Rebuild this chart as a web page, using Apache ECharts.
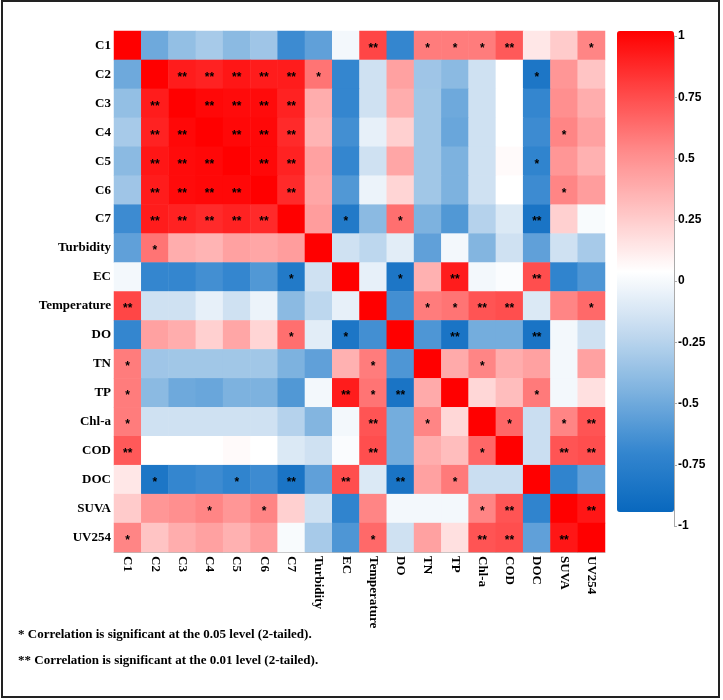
<!DOCTYPE html>
<html>
<head>
<meta charset="utf-8">
<script src="https://cdn.jsdelivr.net/npm/echarts/dist/echarts.min.js"></script>
<style>
  html, body { margin: 0; padding: 0; background: #fff; }
  #main { width: 723px; height: 700px; }
</style>
</head>
<body>
<div id="main"></div>
<script>
// variables, same order on both axes
const names = ['C1', 'C2', 'C3', 'C4', 'C5', 'C6', 'C7', 'Turbidity', 'EC', 'Temperature',
  'DO', 'TN', 'TP', 'Chl-a', 'COD', 'DOC', 'SUVA', 'UV254'];

// correlation coefficients, one row per variable
const corr = [
  [1, -0.55, -0.42, -0.35, -0.45, -0.38, -0.72, -0.6, -0.05, 0.75, -0.75, 0.55, 0.55, 0.55, 0.68, 0.1, 0.22, 0.52],
  [-0.55, 1, 0.9, 0.88, 0.92, 0.9, 0.9, 0.58, -0.75, -0.2, 0.4, -0.38, -0.45, -0.2, 0, -0.88, 0.45, 0.25],
  [-0.42, 0.9, 1, 0.97, 0.96, 0.96, 0.88, 0.35, -0.75, -0.2, 0.35, -0.37, -0.55, -0.2, 0, -0.75, 0.48, 0.35],
  [-0.35, 0.88, 0.97, 1, 0.97, 0.97, 0.85, 0.32, -0.7, -0.1, 0.2, -0.37, -0.57, -0.2, 0, -0.72, 0.52, 0.4],
  [-0.45, 0.92, 0.96, 0.97, 1, 0.97, 0.88, 0.4, -0.75, -0.2, 0.38, -0.37, -0.5, -0.2, 0.02, -0.77, 0.45, 0.33],
  [-0.38, 0.9, 0.96, 0.97, 0.97, 1, 0.85, 0.38, -0.65, -0.08, 0.18, -0.37, -0.5, -0.2, 0, -0.72, 0.52, 0.42],
  [-0.72, 0.9, 0.88, 0.85, 0.88, 0.85, 1, 0.42, -0.85, -0.45, 0.6, -0.5, -0.65, -0.3, -0.15, -0.9, 0.2, -0.03],
  [-0.6, 0.58, 0.35, 0.32, 0.4, 0.38, 0.42, 1, -0.2, -0.27, -0.12, -0.6, -0.05, -0.48, -0.2, -0.6, -0.2, -0.35],
  [-0.05, -0.75, -0.75, -0.7, -0.75, -0.65, -0.85, -0.2, 1, -0.1, -0.88, 0.33, 0.9, -0.05, -0.02, 0.72, -0.77, -0.66],
  [0.75, -0.2, -0.2, -0.1, -0.2, -0.08, -0.45, -0.27, -0.1, 1, -0.7, 0.55, 0.58, 0.7, 0.72, -0.15, 0.52, 0.62],
  [-0.75, 0.4, 0.35, 0.2, 0.38, 0.18, 0.6, -0.12, -0.88, -0.7, 1, -0.66, -0.9, -0.53, -0.53, -0.9, -0.05, -0.2],
  [0.55, -0.38, -0.37, -0.37, -0.37, -0.37, -0.5, -0.6, 0.33, 0.55, -0.66, 1, 0.36, 0.52, 0.35, 0.4, -0.05, 0.4],
  [0.55, -0.45, -0.55, -0.57, -0.5, -0.5, -0.65, -0.05, 0.9, 0.58, -0.9, 0.36, 1, 0.17, 0.28, 0.56, -0.05, 0.13],
  [0.55, -0.2, -0.2, -0.2, -0.2, -0.2, -0.3, -0.48, -0.05, 0.7, -0.53, 0.52, 0.17, 1, 0.63, -0.22, 0.52, 0.7],
  [0.68, 0, 0, 0, 0.02, 0, -0.15, -0.2, -0.02, 0.72, -0.53, 0.35, 0.28, 0.63, 1, -0.22, 0.7, 0.72],
  [0.1, -0.88, -0.75, -0.72, -0.77, -0.72, -0.9, -0.6, 0.72, -0.15, -0.9, 0.4, 0.56, -0.22, -0.22, 1, -0.77, -0.6],
  [0.22, 0.45, 0.48, 0.52, 0.45, 0.52, 0.2, -0.2, -0.77, 0.52, -0.05, -0.05, -0.05, 0.52, 0.7, -0.77, 1, 0.92],
  [0.52, 0.25, 0.35, 0.4, 0.33, 0.42, -0.03, -0.35, -0.66, 0.62, -0.2, 0.4, 0.13, 0.7, 0.72, -0.6, 0.92, 1]
];

// significance marks, same layout as corr
const sig = [
  ['', '', '', '', '', '', '', '', '', '**', '', '*', '*', '*', '**', '', '', '*'],
  ['', '', '**', '**', '**', '**', '**', '*', '', '', '', '', '', '', '', '*', '', ''],
  ['', '**', '', '**', '**', '**', '**', '', '', '', '', '', '', '', '', '', '', ''],
  ['', '**', '**', '', '**', '**', '**', '', '', '', '', '', '', '', '', '', '*', ''],
  ['', '**', '**', '**', '', '**', '**', '', '', '', '', '', '', '', '', '*', '', ''],
  ['', '**', '**', '**', '**', '', '**', '', '', '', '', '', '', '', '', '', '*', ''],
  ['', '**', '**', '**', '**', '**', '', '', '*', '', '*', '', '', '', '', '**', '', ''],
  ['', '*', '', '', '', '', '', '', '', '', '', '', '', '', '', '', '', ''],
  ['', '', '', '', '', '', '*', '', '', '', '*', '', '**', '', '', '**', '', ''],
  ['**', '', '', '', '', '', '', '', '', '', '', '*', '*', '**', '**', '', '', '*'],
  ['', '', '', '', '', '', '*', '', '*', '', '', '', '**', '', '', '**', '', ''],
  ['*', '', '', '', '', '', '', '', '', '*', '', '', '', '*', '', '', '', ''],
  ['*', '', '', '', '', '', '', '', '**', '*', '**', '', '', '', '', '*', '', ''],
  ['*', '', '', '', '', '', '', '', '', '**', '', '*', '', '', '*', '', '*', '**'],
  ['**', '', '', '', '', '', '', '', '', '**', '', '', '', '*', '', '', '**', '**'],
  ['', '*', '', '', '*', '', '**', '', '**', '', '**', '', '*', '', '', '', '', ''],
  ['', '', '', '*', '', '*', '', '', '', '', '', '', '', '*', '**', '', '', '**'],
  ['*', '', '', '', '', '', '', '', '', '*', '', '', '', '**', '**', '', '**', '']
];

// colour bar ticks
const barTicks = [1, 0.75, 0.5, 0.25, 0, -0.25, -0.5, -0.75, -1];

const notes = [
  '* Correlation is significant at the 0.05 level (2-tailed).',
  '** Correlation is significant at the 0.01 level (2-tailed).'
];

const cells = [];
for (let r = 0; r < names.length; r++) {
  for (let c = 0; c < names.length; c++) {
    cells.push([c, r, corr[r][c], sig[r][c]]);
  }
}

const labelFont = 'Liberation Serif';

const chart = echarts.init(document.getElementById('main'));
chart.setOption({
  animation: false,
  grid: [
    { left: 114, top: 31, width: 491, height: 521 },
    { left: 674, top: 36, width: 1, height: 490 }
  ],
  xAxis: [
    {
      type: 'category',
      data: names,
      gridIndex: 0,
      axisLine: { lineStyle: { color: '#bbb' } },
      axisTick: { show: false },
      axisLabel: {
        rotate: -90,
        margin: 4,
        color: '#000',
        fontFamily: labelFont,
        fontWeight: 'bold',
        fontSize: 13
      },
      splitLine: { show: false }
    },
    { type: 'value', gridIndex: 1, show: false, min: 0, max: 1 }
  ],
  yAxis: [
    {
      type: 'category',
      data: names,
      inverse: true,
      gridIndex: 0,
      axisLine: { lineStyle: { color: '#bbb' } },
      axisTick: { show: false },
      axisLabel: {
        margin: 3,
        color: '#000',
        fontFamily: labelFont,
        fontWeight: 'bold',
        fontSize: 13
      },
      splitLine: { show: false }
    },
    {
      type: 'value',
      gridIndex: 1,
      position: 'right',
      min: -1,
      max: 1,
      interval: 0.25,
      axisLine: { show: true, lineStyle: { color: '#aaa' } },
      axisTick: { show: true, length: 3, lineStyle: { color: '#aaa' } },
      axisLabel: {
        margin: 3,
        color: '#000',
        fontFamily: 'Liberation Sans',
        fontWeight: 'bold',
        fontSize: 12,
        formatter: (v) => (barTicks.indexOf(v) >= 0 ? String(v) : '')
      },
      splitLine: { show: false }
    }
  ],
  visualMap: {
    type: 'continuous',
    seriesIndex: 0,
    dimension: 2,
    min: -1,
    max: 1,
    calculable: false,
    orient: 'vertical',
    left: 617,
    top: 31,
    padding: 0,
    itemWidth: 57,
    itemHeight: 481,
    text: ['', ''],
    inRange: {
      color: ['#0868be', '#3486cf', '#7db2df', '#c3daef', '#ffffff',
        '#ffc4c4', '#ff8a8a', '#ff4646', '#ff0000']
    }
  },
  series: [
    {
      type: 'heatmap',
      xAxisIndex: 0,
      yAxisIndex: 0,
      data: cells,
      label: {
        show: true,
        formatter: (p) => p.data[3],
        color: '#000',
        fontFamily: 'Liberation Sans',
        fontWeight: 'bold',
        fontSize: 12,
        offset: [0, 3]
      },
      emphasis: { disabled: true }
    }
  ],
  graphic: [
    {
      type: 'rect',
      shape: { x: 2, y: 1, width: 717, height: 696 },
      style: { fill: 'none', stroke: '#222', lineWidth: 2 },
      silent: true
    },
    {
      type: 'text',
      left: 18,
      top: 628,
      style: { text: notes[0], fill: '#000', font: 'bold 13px "Liberation Serif"' }
    },
    {
      type: 'text',
      left: 18,
      top: 654,
      style: { text: notes[1], fill: '#000', font: 'bold 13px "Liberation Serif"' }
    }
  ]
});
</script>
</body>
</html>
